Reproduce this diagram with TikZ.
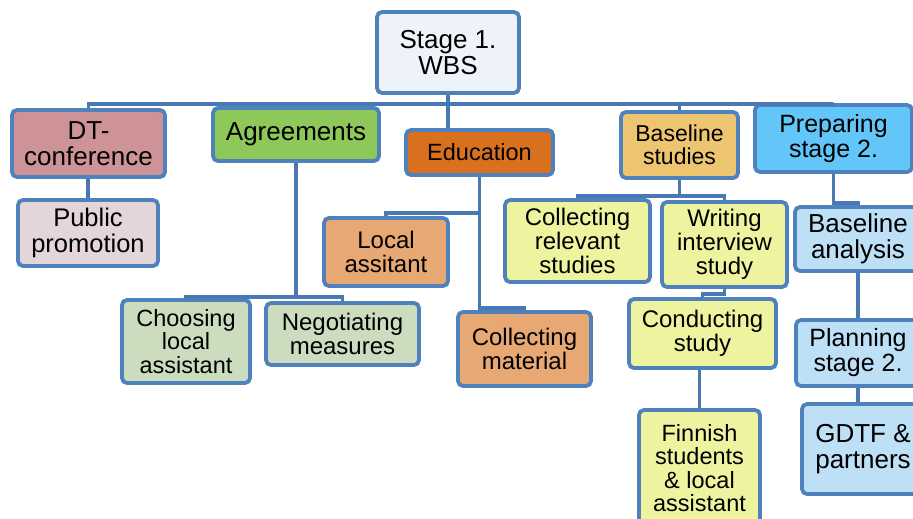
\documentclass[tikz,border=0pt]{standalone}
\usepackage{fontspec}
\setmainfont{Liberation Sans}
\definecolor{bord}{HTML}{4F81BD}
\definecolor{lnk}{HTML}{4A78B2}
\definecolor{cRoot}{HTML}{EEF3FA}
\definecolor{cDT}{HTML}{CD9397}
\definecolor{cAgr}{HTML}{8DC858}
\definecolor{cEdu}{HTML}{D9701E}
\definecolor{cBS}{HTML}{EDC46F}
\definecolor{cPrep}{HTML}{62C7F8}
\definecolor{cPub}{HTML}{E3D5DA}
\definecolor{cLoc}{HTML}{E8A874}
\definecolor{cGreen}{HTML}{CCDDBF}
\definecolor{cYel}{HTML}{EEF3A0}
\definecolor{cBlue}{HTML}{BEE0F7}
\newcommand{\fs}[1]{\fontsize{#1}{#1}\selectfont}
\tikzset{
  box/.style={draw=bord, line width=3.8pt, rounded corners=5pt, align=center, inner sep=0pt, text=black},
  conn/.style={draw=lnk, line width=3.2pt},
}
\begin{document}
\begin{tikzpicture}[x=1pt,y=-1pt]
\useasboundingbox (0,0) rectangle (913,519);
% nodes
\node[box, fill=cRoot, minimum width=142pt, minimum height=81pt, font=\fs{26}] (root) at (448,52.5) {Stage 1.\\WBS};
\node[box, fill=cDT, minimum width=153pt, minimum height=67pt, font=\fs{26}] (dt) at (88.5,143.5) {DT-\\conference};
\node[box, fill=cAgr, minimum width=166pt, minimum height=53pt, font=\fs{26}] (agr) at (296,134.5) {Agreements};
\node[box, fill=cEdu, minimum width=147pt, minimum height=45pt, font=\fs{23.5}] (edu) at (479.5,152.5) {Education};
\node[box, fill=cBS, minimum width=117pt, minimum height=66pt, font=\fs{23}] (bs) at (679.5,145) {Baseline\\studies};
\node[box, fill=cPrep, minimum width=157pt, minimum height=67pt, font=\fs{25}] (prep) at (833.5,138.5) {Preparing\\stage 2.};
\node[box, fill=cPub, minimum width=140pt, minimum height=66pt, font=\fs{25.5}] (pub) at (88,233) {Public\\promotion};
\node[box, fill=cLoc, minimum width=124pt, minimum height=68pt, font=\fs{24}] (loc) at (386,252) {Local\\assitant};
\node[box, fill=cGreen, minimum width=128pt, minimum height=83pt, font=\fs{23.5}] (cho) at (186,341.5) {Choosing\\local\\assistant};
\node[box, fill=cGreen, minimum width=153pt, minimum height=62pt, font=\fs{24}] (neg) at (342.5,334) {Negotiating\\measures};
\node[box, fill=cLoc, minimum width=133pt, minimum height=74pt, font=\fs{24}] (colm) at (524.5,349) {Collecting\\material};
\node[box, fill=cYel, minimum width=145pt, minimum height=82pt, font=\fs{24}] (colr) at (577.5,241) {Collecting\\relevant\\studies};
\node[box, fill=cYel, minimum width=125pt, minimum height=85pt, font=\fs{24}] (wri) at (724.5,244.5) {Writing\\interview\\study};
\node[box, fill=cYel, minimum width=147pt, minimum height=69pt, font=\fs{24}] (con) at (702.5,333.5) {Conducting\\study};
\node[box, fill=cYel, minimum width=121pt, minimum height=116pt, font=\fs{23.5}] (fin) at (699.5,468) {Finnish\\students\\\& local\\assistant};
\node[box, fill=cBlue, minimum width=126pt, minimum height=64pt, font=\fs{26}] (ba) at (858,239) {Baseline\\analysis};
\node[box, fill=cBlue, minimum width=124pt, minimum height=66pt, font=\fs{25}] (pl) at (858,353) {Planning\\stage 2.};
\node[box, fill=cBlue, minimum width=122pt, minimum height=90pt, font=\fs{26}] (gd) at (863,449) {GDTF \&\\partners};
% helper levels
\coordinate (busY) at (0,104);
\coordinate (agrY) at (0,297);
\coordinate (locY) at (0,213);
\coordinate (colmY) at (0,308);
\coordinate (bsY) at (0,196);
\coordinate (wY) at (0,294);
\coordinate (pY) at (0,203);
% connectors
\begin{scope}[on background layer/.style={}]
\end{scope}
\draw[conn] (root.south) -- (root.south |- edu.north);
\draw[conn] (dt.north) -- (dt.north |- busY) -- (prep.north |- busY) -- (prep.north);
\draw[conn] (agr.north) -- (agr.north |- busY);
\draw[conn] (bs.north) -- (bs.north |- busY);
\draw[conn] (dt.south -| pub.north) -- (pub.north);
\draw[conn] (agr.south) -- (agr.south |- agrY);
\draw[conn] (cho.north) -- (cho.north |- agrY) -- (neg.north |- agrY) -- (neg.north);
\draw[conn] (edu.south) -- (edu.south |- colmY) -- (colm.north |- colmY) -- (colm.north);
\draw[conn] (edu.south |- locY) -- (loc.north |- locY) -- (loc.north);
\draw[conn] (bs.south) -- (bs.south |- bsY);
\draw[conn] (colr.north) -- (colr.north |- bsY) -- (wri.north |- bsY) -- (wri.north);
\draw[conn] (wri.south) -- (wri.south |- wY) -- (con.north |- wY) -- (con.north);
\draw[conn] (fin.north |- con.south) -- (fin.north);
\draw[conn] (prep.south) -- (prep.south |- pY) -- (ba.north |- pY) -- (ba.north);
\draw[conn] (ba.south) -- (ba.south |- pl.north);
\draw[conn] (pl.south) -- (pl.south |- gd.north);
\end{tikzpicture}
\end{document}
